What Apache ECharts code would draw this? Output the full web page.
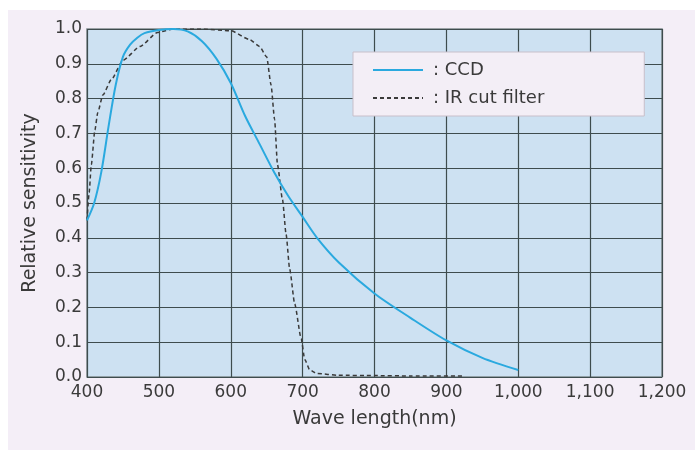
<!DOCTYPE html>
<html>
<head>
<meta charset="utf-8">
<script src="https://cdn.jsdelivr.net/npm/echarts@6/dist/echarts.min.js"></script>
<style>
html,body{margin:0;padding:0;background:#ffffff;}
#bg{position:absolute;left:8px;top:10px;width:687px;height:440px;background:#f4eef7;}
#chart{position:absolute;left:0;top:0;width:695px;height:462px;}
</style>
</head>
<body>
<div id="bg"></div>
<div id="chart"></div>
<script>
// CCD relative sensitivity (wavelength nm, value)
const ccdNm  = [400, 410, 420, 430, 440, 450, 460, 470, 480, 500, 520, 540, 560, 580, 600, 620, 640, 660, 680, 700, 720, 750, 800, 850, 900, 950, 1000];
const ccdVal = [0.45, 0.50, 0.59, 0.72, 0.84, 0.92, 0.955, 0.975, 0.988, 0.997, 1.0, 0.993, 0.965, 0.915, 0.845, 0.75, 0.67, 0.59, 0.52, 0.46, 0.40, 0.33, 0.24, 0.17, 0.105, 0.055, 0.02];
// IR cut filter transmission
const irNm  = [400, 403, 406, 411, 415, 422, 434, 450, 474, 498, 520, 560, 600, 626, 640, 650, 656, 661, 665, 672, 677, 682, 689, 698, 703, 710, 720, 750, 800, 850, 925];
const irVal = [0.45, 0.53, 0.61, 0.71, 0.76, 0.81, 0.855, 0.91, 0.95, 0.99, 1.0, 1.0, 0.995, 0.97, 0.95, 0.92, 0.84, 0.74, 0.61, 0.51, 0.41, 0.31, 0.21, 0.11, 0.05, 0.02, 0.01, 0.005, 0.004, 0.003, 0.003];
const seriesNames = ['CCD', 'IR cut filter'];
const xTickLabels = ['400', '500', '600', '700', '800', '900', '1,000', '1,100', '1,200'];
const yTickLabels = ['0.0', '0.1', '0.2', '0.3', '0.4', '0.5', '0.6', '0.7', '0.8', '0.9', '1.0'];
const xAxisTitle = 'Wave length(nm)';
const yAxisTitle = 'Relative sensitivity';

const ccdData = ccdNm.map((x, i) => [x, ccdVal[i]]);
const irData = irNm.map((x, i) => [x, irVal[i]]);

const chart = echarts.init(document.getElementById('chart'), null, {renderer: 'canvas'});
const textColor = '#3a3a3a';
const font = 'DejaVu Sans';
chart.setOption({
  backgroundColor: 'transparent',
  animation: false,
  grid: {
    left: 87, right: 33, top: 29, bottom: 85,
    show: true,
    backgroundColor: '#cde1f2',
    borderColor: '#7f8b8d',
    borderWidth: 1.5
  },
  legend: {
    orient: 'vertical',
    left: 353, top: 52,
    padding: [9, 100, 9, 19],
    itemGap: 10,
    itemWidth: 50,
    itemHeight: 18,
    backgroundColor: '#f3eef6',
    borderColor: '#c8bfca',
    borderWidth: 1,
    itemStyle: {opacity: 0},
    formatter: name => ': ' + name,
    textStyle: {color: textColor, fontFamily: font, fontSize: 18, padding: [0, 0, 0, 5]},
    data: seriesNames
  },
  xAxis: {
    type: 'value',
    min: 400, max: 1200, interval: 100,
    name: xAxisTitle,
    nameLocation: 'middle',
    nameGap: 33,
    nameTextStyle: {color: textColor, fontFamily: font, fontSize: 19},
    axisLine: {show: false},
    axisTick: {show: false},
    axisLabel: {
      color: textColor, fontFamily: font, fontSize: 17, margin: 7,
      formatter: v => xTickLabels[Math.round((v - 400) / 100)]
    },
    splitLine: {show: true, lineStyle: {color: '#3e4c4e', width: 1.2}}
  },
  yAxis: {
    type: 'value',
    min: 0, max: 1, interval: 0.1,
    name: yAxisTitle,
    nameLocation: 'middle',
    nameGap: 47,
    nameTextStyle: {color: textColor, fontFamily: font, fontSize: 19},
    axisLine: {show: false},
    axisTick: {show: false},
    axisLabel: {
      color: textColor, fontFamily: font, fontSize: 17, margin: 5,
      formatter: v => yTickLabels[Math.round(v * 10)]
    },
    splitLine: {show: true, lineStyle: {color: '#3e4c4e', width: 1.2}}
  },
  series: [
    {
      name: seriesNames[0],
      type: 'line',
      data: ccdData,
      symbol: 'none',
      smooth: 0.3,
      lineStyle: {color: '#2aa9df', width: 2},
      itemStyle: {color: '#2aa9df'},
      z: 3
    },
    {
      name: seriesNames[1],
      type: 'line',
      data: irData,
      symbol: 'none',
      smooth: 0.2,
      smoothMonotone: 'x',
      lineStyle: {color: '#3a3a3a', width: 1.5, type: [4, 3]},
      itemStyle: {color: '#3a3a3a'},
      z: 2
    }
  ]
});
</script>
</body>
</html>
